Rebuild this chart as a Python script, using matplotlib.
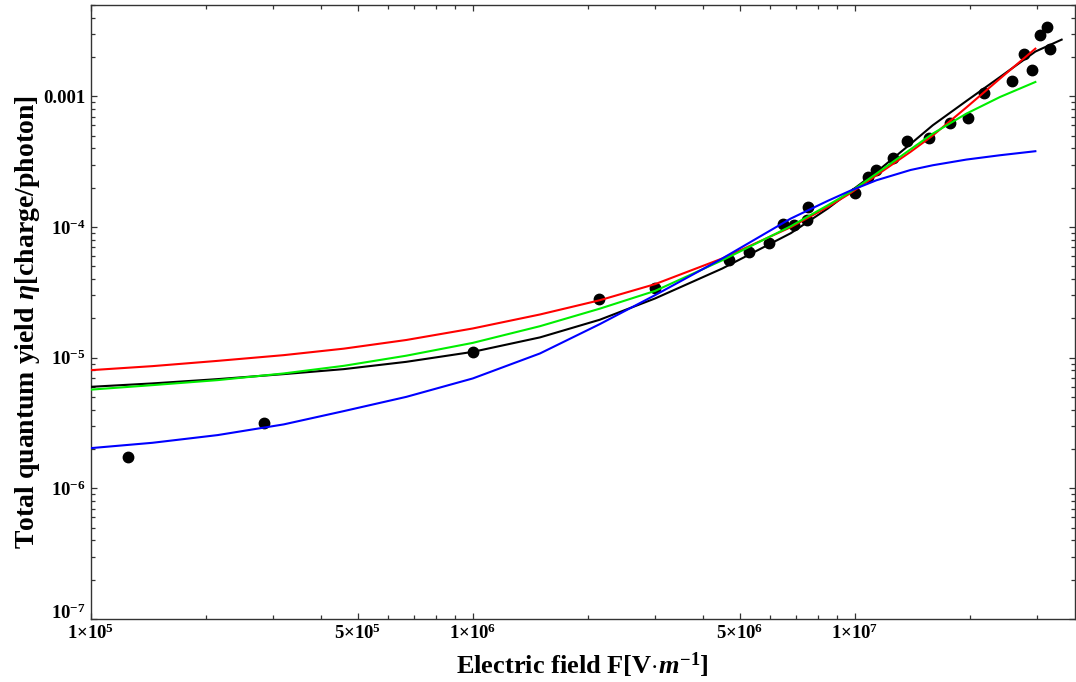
import matplotlib
matplotlib.use('Agg')
import matplotlib.pyplot as plt
from matplotlib.ticker import FixedLocator, NullFormatter

plt.rcParams['font.family'] = ['Liberation Serif', 'DejaVu Serif']
plt.rcParams['font.weight'] = 'bold'
plt.rcParams['mathtext.fontset'] = 'custom'
plt.rcParams['mathtext.rm'] = 'Liberation Serif:bold'
plt.rcParams['mathtext.it'] = 'Liberation Serif:italic:bold'
plt.rcParams['mathtext.bf'] = 'Liberation Serif:bold'

# measured points
field = [1.255e5, 2.84e5, 1.0e6, 2.14e6, 3.0e6, 4.7e6, 5.3e6, 5.97e6, 6.48e6,
         6.93e6, 7.5e6, 7.56e6, 1.0e7, 1.08e7, 1.14e7, 1.26e7, 1.37e7, 1.56e7,
         1.78e7, 1.98e7, 2.18e7, 2.58e7, 2.77e7, 2.91e7, 3.06e7, 3.18e7, 3.24e7]
yield_meas = [1.74e-6, 3.17e-6, 1.107e-5, 2.79e-5, 3.44e-5, 5.57e-5, 6.44e-5, 7.6e-5, 1.06e-4,
              1.03e-4, 1.14e-4, 1.41e-4, 1.82e-4, 2.42e-4, 2.75e-4, 3.4e-4, 4.55e-4, 4.8e-4,
              6.3e-4, 6.87e-4, 1.06e-3, 1.32e-3, 2.12e-3, 1.58e-3, 2.93e-3, 3.39e-3, 2.32e-3]

# fitted curves
fit_x = [1e5, 1.45e5, 2.15e5, 3.2e5, 4.6e5, 6.7e5, 1e6, 1.5e6, 2.15e6, 3e6, 4.5e6,
         6.8e6, 8.5e6, 9.7e6, 1.14e7, 1.4e7, 1.6e7, 1.96e7, 2.4e7, 2.97e7]
red_fit = [8.02e-6, 8.61e-6, 9.45e-6, 1.045e-5, 1.172e-5, 1.365e-5, 1.672e-5, 2.14e-5,
           2.75e-5, 3.65e-5, 5.74e-5, 9.96e-5, 1.423e-4, 1.80e-4, 2.488e-4, 3.76e-4,
           5.01e-4, 8.22e-4, 1.366e-3, 2.316e-3]
green_fit = [5.69e-6, 6.16e-6, 6.73e-6, 7.57e-6, 8.66e-6, 1.035e-5, 1.297e-5, 1.741e-5,
             2.37e-5, 3.24e-5, 5.56e-5, 1.013e-4, 1.466e-4, 1.84e-4, 2.563e-4, 3.93e-4,
             5.18e-4, 7.37e-4, 9.88e-4, 1.287e-3]
blue_fit = [2.03e-6, 2.23e-6, 2.555e-6, 3.084e-6, 3.9e-6, 5.01e-6, 6.93e-6, 1.077e-5,
            1.804e-5, 3.006e-5, 5.74e-5, 1.16e-4, 1.585e-4, 1.886e-4, 2.278e-4, 2.73e-4,
            2.967e-4, 3.28e-4, 3.54e-4, 3.8e-4]
black_x = fit_x + [3.48e7]
black_fit = [5.98e-6, 6.35e-6, 6.85e-6, 7.48e-6, 8.17e-6, 9.29e-6, 1.107e-5, 1.429e-5,
             1.95e-5, 2.836e-5, 4.81e-5, 8.96e-5, 1.384e-4, 1.853e-4, 2.636e-4, 4.32e-4,
             6.0e-4, 9.21e-4, 1.405e-3, 2.2e-3, 2.715e-3]

xticks = [1e5, 5e5, 1e6, 5e6, 1e7]
xtick_labels = [r'1$\times$10$^{5}$', r'5$\times$10$^{5}$', r'1$\times$10$^{6}$',
                r'5$\times$10$^{6}$', r'1$\times$10$^{7}$']
yticks = [1e-7, 1e-6, 1e-5, 1e-4, 1e-3]
ytick_labels = [r'10$^{-7}$', r'10$^{-6}$', r'10$^{-5}$', r'10$^{-4}$', '0.001']

fig = plt.figure(figsize=(10.76, 6.82), dpi=100)
ax = fig.add_axes([0.0843, 0.0924, 0.9147, 0.9003])

ax.plot(field, yield_meas, 'o', color='black', markersize=7.5, zorder=2)
ax.plot(black_x, black_fit, color='black', lw=1.5, zorder=3)
ax.plot(fit_x, red_fit, color='#ff0000', lw=1.5, zorder=4)
ax.plot(fit_x, green_fit, color='#00ee00', lw=1.5, zorder=5)
ax.plot(fit_x, blue_fit, color='#0000ff', lw=1.5, zorder=6)

ax.set_xscale('log')
ax.set_yscale('log')
ax.set_xlim(1e5, 3.77e7)
ax.set_ylim(1e-7, 5e-3)

ax.xaxis.set_major_locator(FixedLocator(xticks))
ax.set_xticklabels(xtick_labels)
xminor = [m * 10 ** e for e in (5, 6, 7) for m in range(2, 10)
          if m * 10 ** e <= 3.77e7 and m != 5]
ax.xaxis.set_minor_locator(FixedLocator(xminor))
ax.xaxis.set_minor_formatter(NullFormatter())

ax.yaxis.set_major_locator(FixedLocator(yticks))
ax.set_yticklabels(ytick_labels)
yminor = [m * 10.0 ** e for e in (-7, -6, -5, -4, -3) for m in range(2, 10)
          if m * 10.0 ** e <= 5e-3]
ax.yaxis.set_minor_locator(FixedLocator(yminor))
ax.yaxis.set_minor_formatter(NullFormatter())

ax.tick_params(which='both', direction='in', top=True, right=True,
               labelsize=13.5, width=0.9, color='#333333')
ax.tick_params(axis='x', pad=3)
ax.tick_params(axis='y', pad=4)
ax.tick_params(which='major', length=4.5)
ax.tick_params(which='minor', length=3)
ax.get_yticklabels()[0].set_va('baseline')
for s in ax.spines.values():
    s.set_linewidth(1.0)
    s.set_color('#333333')

ax.set_xlabel(r'Electric field F[V$\cdot$$m^{-1}$]', fontsize=19, fontweight='bold', labelpad=6)
ax.set_ylabel(r'Total quantum yield $\eta$[charge/photon]', fontsize=20, fontweight='bold')
ax.yaxis.set_label_coords(-0.049, 0.484)

fig.savefig('out.png', dpi=100)
